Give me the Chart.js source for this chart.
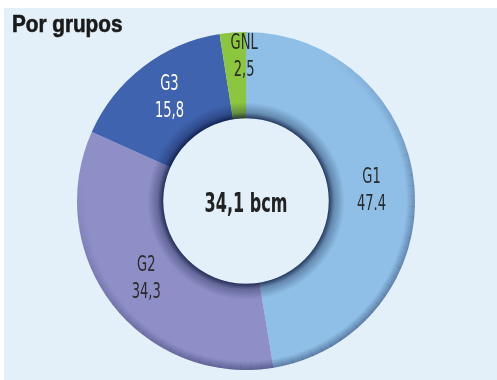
<!DOCTYPE html>
<html>
<head>
<meta charset="utf-8">
<script src="https://cdn.jsdelivr.net/npm/chart.js@4/dist/chart.umd.min.js"></script>
<style>
  html, body { margin: 0; padding: 0; background: #ffffff; }
  #wrap { width: 497px; height: 380px; position: relative; }
</style>
</head>
<body>
<div id="wrap"><canvas id="gruposChart" width="497" height="380"></canvas></div>
<script>
// data
const grupos = ['G1', 'G2', 'G3', 'GNL'];
const valores = [47.4, 34.3, 15.8, 2.5];
const etiquetasValor = ['47.4', '34,3', '15,8', '2,5'];
const colores = ['#8fbfe7', '#8f8fc8', '#4063b0', '#8cc63f'];
const coloresTexto = ['#2a2a2a', '#2a2a2a', '#ffffff', '#2a2a2a'];
const titulo = 'Por grupos';
const total = '34,1 bcm';

const narrowFont = '"Liberation Sans Narrow", "DejaVu Sans Condensed", sans-serif';

// panel background + title
const fondoPlugin = {
    id: 'fondo',
    beforeDraw(chart) {
        const ctx = chart.ctx;
        ctx.save();
        ctx.fillStyle = '#ffffff';
        ctx.fillRect(0, 0, chart.width, chart.height);
        ctx.fillStyle = '#e3f0f9';
        ctx.fillRect(4, 8, chart.width - 4, chart.height - 8);
        ctx.restore();
    },
    afterDraw(chart) {
        const ctx = chart.ctx;
        ctx.save();
        ctx.fillStyle = '#1a1a1a';
        ctx.font = 'bold 23px "Liberation Sans", Arial, sans-serif';
        ctx.textBaseline = 'alphabetic';
        ctx.translate(12, 32);
        ctx.scale(0.9, 1);
        ctx.fillText(titulo, 0, 0);
        ctx.lineWidth = 0.6;
        ctx.strokeStyle = '#1a1a1a';
        ctx.strokeText(titulo, 0, 0);
        ctx.restore();
    }
};

// soft shading on the ring edges
const sombraPlugin = {
    id: 'sombra',
    afterDatasetsDraw(chart) {
        const arc = chart.getDatasetMeta(0).data[0];
        if (!arc) return;
        const { x, y, innerRadius, outerRadius } = arc.getProps(['x', 'y', 'innerRadius', 'outerRadius'], true);
        const ctx = chart.ctx;
        ctx.save();
        // inner shadow
        let g = ctx.createRadialGradient(x, y, innerRadius, x, y, innerRadius + 16);
        g.addColorStop(0, 'rgba(5, 15, 50, 0.75)');
        g.addColorStop(0.35, 'rgba(5, 15, 50, 0.3)');
        g.addColorStop(1, 'rgba(5, 15, 50, 0)');
        ctx.beginPath();
        ctx.arc(x, y, innerRadius + 16, 0, Math.PI * 2);
        ctx.arc(x, y, innerRadius, 0, Math.PI * 2, true);
        ctx.fillStyle = g;
        ctx.fill();
        // outer rim shadow, fading in and out along the lower-right to lower-left
        const a0 = -0.35 * Math.PI, a1 = 1.05 * Math.PI, steps = 70;
        for (let s = 0; s < steps; s++) {
            const t0 = a0 + (a1 - a0) * s / steps;
            const t1 = a0 + (a1 - a0) * (s + 1) / steps + 0.002;
            const k = Math.sin(Math.PI * (s + 0.5) / steps);
            g = ctx.createRadialGradient(x, y, outerRadius - 9, x, y, outerRadius);
            g.addColorStop(0, 'rgba(10, 20, 60, 0)');
            g.addColorStop(1, 'rgba(10, 20, 60, ' + (0.4 * k).toFixed(3) + ')');
            ctx.beginPath();
            ctx.arc(x, y, outerRadius, t0, t1);
            ctx.arc(x, y, outerRadius - 9, t1, t0, true);
            ctx.closePath();
            ctx.fillStyle = g;
            ctx.fill();
        }
        ctx.restore();
    }
};

// segment labels and centre total
const etiquetasPlugin = {
    id: 'etiquetas',
    afterDatasetsDraw(chart) {
        const ctx = chart.ctx;
        const meta = chart.getDatasetMeta(0);
        ctx.save();
        ctx.textAlign = 'center';
        ctx.textBaseline = 'middle';
        meta.data.forEach((arc, i) => {
            const p = arc.getProps(['x', 'y', 'startAngle', 'endAngle', 'innerRadius', 'outerRadius'], true);
            const mid = (p.startAngle + p.endAngle) / 2;
            const r = (p.innerRadius + p.outerRadius) / 2;
            let cx = p.x + Math.cos(mid) * r;
            let cy = p.y + Math.sin(mid) * r;
            if (grupos[i] === 'GNL') { cx += 8; cy -= 19; }
            if (grupos[i] === 'G3') { cy -= 4; }
            ctx.fillStyle = coloresTexto[i];
            ctx.font = '22px ' + narrowFont;
            [grupos[i], etiquetasValor[i]].forEach((t, k) => {
                ctx.save();
                ctx.translate(cx, cy + (k === 0 ? -13 : 14));
                ctx.scale(0.66, 1);
                ctx.fillText(t, 0, 0);
                ctx.restore();
            });
        });
        const c = meta.data[0];
        ctx.fillStyle = '#222222';
        ctx.font = 'bold 27px ' + narrowFont;
        ctx.translate(c.x, c.y + 4);
        ctx.scale(0.66, 1);
        ctx.fillText(total, 0, 0);
        ctx.restore();
    }
};

new Chart(document.getElementById('gruposChart').getContext('2d'), {
    type: 'doughnut',
    data: {
        labels: grupos,
        datasets: [{
            data: valores,
            backgroundColor: colores,
            borderWidth: 0
        }]
    },
    options: {
        responsive: false,
        animation: false,
        cutout: '49%',
        rotation: 0,
        layout: { padding: { top: 32, bottom: 10, left: 77, right: 82 } },
        plugins: {
            legend: { display: false },
            tooltip: { enabled: false }
        }
    },
    plugins: [fondoPlugin, sombraPlugin, etiquetasPlugin]
});
</script>
</body>
</html>
